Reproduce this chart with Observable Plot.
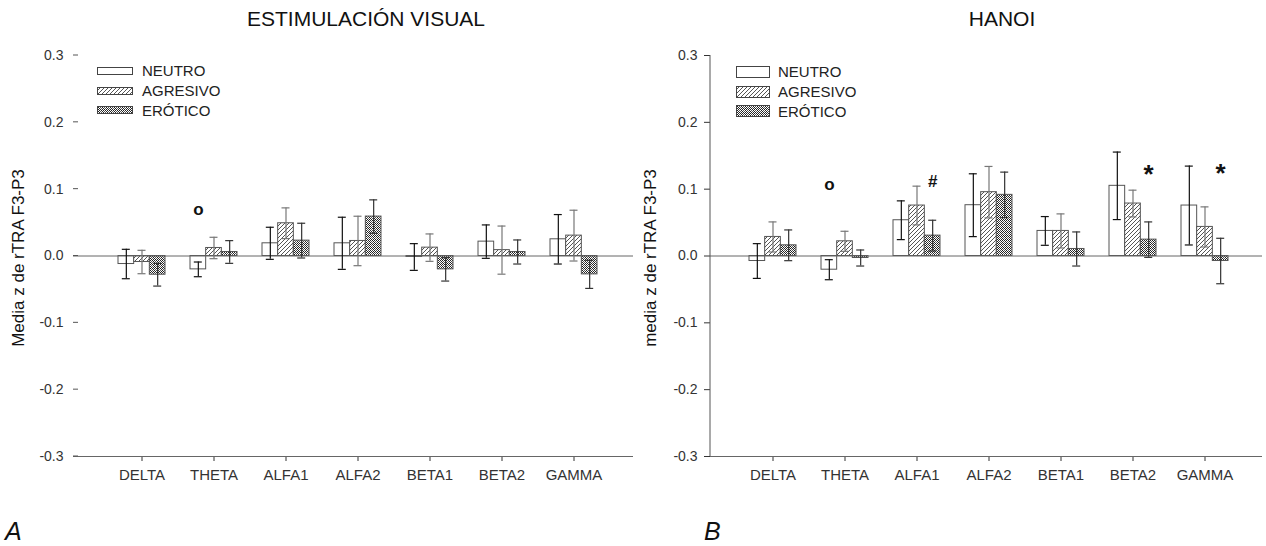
<!DOCTYPE html>
<html><head><meta charset="utf-8">
<script src="https://cdn.jsdelivr.net/npm/d3@7"></script>
<script src="https://cdn.jsdelivr.net/npm/@observablehq/plot@0.6"></script>
<style>
body{margin:0;background:#fff;font-family:"Liberation Sans",Arial,sans-serif;color:#111;}
#wrap{position:relative;width:1266px;height:546px;overflow:hidden;}
.panel{position:absolute;top:0;}
.title{position:absolute;top:7px;font-size:21px;transform:translateX(-50%);white-space:nowrap;}
.ylab{position:absolute;font-size:17px;white-space:nowrap;transform:translate(-50%,-50%) rotate(-90deg);}
.letter{position:absolute;font-size:25px;line-height:25px;font-style:italic;top:519px;}
.legend{position:absolute;font-size:15px;color:#222;}
.legend .row{display:flex;align-items:center;height:19.7px;}
.legend svg{display:block;}
</style>
</head>
<body>
<svg width="0" height="0" style="position:absolute">
  <defs>
    <pattern id="hatch" patternUnits="userSpaceOnUse" width="4" height="4">
      <rect width="4" height="4" fill="#fff"/>
      <path d="M-1,1 l2,-2 M0,4 l4,-4 M3,5 l2,-2" stroke="#555" stroke-width="1"/>
    </pattern>
    <pattern id="cross" patternUnits="userSpaceOnUse" width="4" height="4">
      <rect width="4" height="4" fill="#fff"/>
      <rect x="0" y="0" width="1" height="1" fill="#222"/>
      <rect x="2" y="0" width="1" height="1" fill="#222"/>
      <rect x="1" y="1" width="1" height="1" fill="#222"/>
      <rect x="3" y="1" width="1" height="1" fill="#555"/>
      <rect x="0" y="2" width="1" height="1" fill="#555"/>
      <rect x="2" y="2" width="1" height="1" fill="#222"/>
      <rect x="1" y="3" width="1" height="1" fill="#222"/>
      <rect x="3" y="3" width="1" height="1" fill="#222"/>
    </pattern>
  </defs>
</svg>
<div id="wrap"></div>
<script>
// ---------- data ----------
const categories = ["DELTA", "THETA", "ALFA1", "ALFA2", "BETA1", "BETA2", "GAMMA"];
const seriesNames = ["NEUTRO", "AGRESIVO", "ERÓTICO"];
const yTicks = [-0.3, -0.2, -0.1, 0, 0.1, 0.2, 0.3];

// Panel A: Estimulación visual
const visualNeutro      = [-0.012, -0.020, 0.019, 0.019, -0.0015, 0.0215, 0.025];
const visualAgresivo    = [-0.009, 0.012, 0.049, 0.0225, 0.0125, 0.0088, 0.0305];
const visualErotico     = [-0.028, 0.006, 0.023, 0.059, -0.020, 0.006, -0.0275];
const visualNeutroErr   = [0.022, 0.011, 0.024, 0.039, 0.020, 0.025, 0.037];
const visualAgresivoErr = [0.0175, 0.016, 0.023, 0.037, 0.0205, 0.036, 0.038];
const visualEroticoErr  = [0.017, 0.017, 0.026, 0.025, 0.0175, 0.018, 0.021];
const visualMarks = [{cat: "THETA", series: "NEUTRO", y: 0.070, label: "o"}];

// Panel B: Hanoi
const hanoiNeutro      = [-0.0075, -0.0205, 0.0535, 0.076, 0.0375, 0.105, 0.0755];
const hanoiAgresivo    = [0.0285, 0.022, 0.0755, 0.0955, 0.0375, 0.0785, 0.0435];
const hanoiErotico     = [0.016, -0.003, 0.0305, 0.0915, 0.0105, 0.0245, -0.0075];
const hanoiNeutroErr   = [0.026, 0.015, 0.029, 0.047, 0.0215, 0.0505, 0.059];
const hanoiAgresivoErr = [0.0225, 0.015, 0.029, 0.0385, 0.0255, 0.020, 0.030];
const hanoiEroticoErr  = [0.023, 0.012, 0.023, 0.034, 0.0255, 0.0265, 0.034];
const hanoiMarks = [
  {cat: "THETA", series: "NEUTRO", y: 0.107, label: "o"},
  {cat: "ALFA1", series: "ERÓTICO", y: 0.111, label: "#"},
  {cat: "BETA2", series: "ERÓTICO", y: 0.122, label: "*"},
  {cat: "GAMMA", series: "ERÓTICO", y: 0.123, label: "*"}
];

// ---------- styles ----------
const FILLS = ["#fff", "url(#hatch)", "url(#cross)"];
const ERRC = ["#111", "#777", "#333"];
const BAR_INSETS = [[0, 31.33], [15.67, 15.67], [31.33, 0]];
const CAP_INSETS = [[3.8, 35.2], [19.5, 19.5], [35.2, 3.8]];
const OFFS = [-15.67, 0, 15.67];
const FONT = '"Liberation Sans", Arial, sans-serif';

function buildRows(means, errs) {
  const rows = [];
  seriesNames.forEach((s, si) => categories.forEach((c, ci) =>
    rows.push({cat: c, series: s, v: means[si][ci], e: errs[si][ci]})));
  return rows;
}

function makePanel(cfg) {
  const rows = buildRows(cfg.means, cfg.errs);
  const marks = [];
  seriesNames.forEach((s, si) => {
    const d = rows.filter(r => r.series === s);
    marks.push(Plot.barY(d, {x: "cat", y: "v", fill: FILLS[si], stroke: "#555", strokeWidth: 1,
      insetLeft: BAR_INSETS[si][0], insetRight: BAR_INSETS[si][1]}));
  });
  marks.push(Plot.ruleY([0], {stroke: "#666"}));
  marks.push(Plot.ruleY([-0.3], {stroke: "#666"}));
  seriesNames.forEach((s, si) => {
    const d = rows.filter(r => r.series === s);
    marks.push(Plot.ruleX(d, {x: "cat", y1: r => r.v - r.e, y2: r => r.v + r.e, dx: OFFS[si], stroke: ERRC[si], strokeWidth: 1.2}));
    marks.push(Plot.tickY(d, {x: "cat", y: r => r.v + r.e, stroke: ERRC[si], strokeWidth: 1.2,
      insetLeft: CAP_INSETS[si][0], insetRight: CAP_INSETS[si][1]}));
    marks.push(Plot.tickY(d, {x: "cat", y: r => r.v - r.e, stroke: ERRC[si], strokeWidth: 1.2,
      insetLeft: CAP_INSETS[si][0], insetRight: CAP_INSETS[si][1]}));
  });
  cfg.annots.forEach(a => {
    const si = seriesNames.indexOf(a.series);
    const big = a.label === "*";
    marks.push(Plot.text([a], {x: "cat", y: "y", text: "label", dx: OFFS[si],
      fontSize: big ? 26 : 17, fontWeight: "bold", fill: "#111"}));
  });
  const plot = Plot.plot({
    width: cfg.width, height: 546,
    marginLeft: cfg.marginLeft, marginRight: cfg.marginRight, marginTop: 55, marginBottom: 90,
    style: {fontFamily: FONT, fontSize: "14px", color: "#333", background: "transparent"},
    x: {domain: categories, paddingInner: 0.349, paddingOuter: cfg.paddingOuter, align: cfg.align,
        tickSize: 5, tickPadding: 8, label: null},
    y: {domain: [-0.3, 0.3], ticks: yTicks, tickFormat: d => d.toFixed(1),
        tickSize: cfg.tickSize, tickPadding: cfg.tickPadding, label: null},
    marks
  });
  // decorations via the plot's own y scale
  const ys = plot.scale("y");
  const svg = d3.select(plot.tagName === "svg" ? plot : plot.querySelector("svg"));
  svg.selectAll('[aria-label="x-axis tick label"]').style("font-size", "15px");
  if (cfg.axisLine) {
    svg.append("line").attr("x1", cfg.marginLeft).attr("x2", cfg.marginLeft)
      .attr("y1", ys.apply(0.3)).attr("y2", ys.apply(-0.3)).attr("stroke", "#555");
  } else {
    yTicks.forEach(t => svg.append("line").attr("x1", cfg.marginLeft).attr("x2", cfg.marginLeft + 5)
      .attr("y1", ys.apply(t)).attr("y2", ys.apply(t)).attr("stroke", "#555"));
  }
  plot.classList.add("panel");
  plot.style.left = cfg.left + "px";
  return plot;
}

const wrap = document.getElementById("wrap");
wrap.appendChild(makePanel({
  means: [visualNeutro, visualAgresivo, visualErotico],
  errs: [visualNeutroErr, visualAgresivoErr, visualEroticoErr],
  annots: visualMarks, width: 640, left: 0, marginLeft: 73, marginRight: 7,
  paddingOuter: 0.553, align: 0.55, tickSize: 0, tickPadding: 10, axisLine: false
}));
wrap.appendChild(makePanel({
  means: [hanoiNeutro, hanoiAgresivo, hanoiErotico],
  errs: [hanoiNeutroErr, hanoiAgresivoErr, hanoiEroticoErr],
  annots: hanoiMarks, width: 626, left: 640, marginLeft: 70, marginRight: 4,
  paddingOuter: 0.497, align: 0.54, tickSize: 6, tickPadding: 7, axisLine: true
}));

function addText(cls, text, x, y) {
  const el = document.createElement("div");
  el.className = cls; el.textContent = text;
  el.style.left = x + "px";
  if (y !== undefined) el.style.top = y + "px";
  wrap.appendChild(el);
  return el;
}
addText("title", "ESTIMULACIÓN VISUAL", 366);
addText("title", "HANOI", 1002);
addText("ylab", "Media z de rTRA F3-P3", 19, 258);
addText("ylab", "media z de rTRA F3-P3", 651, 258);
addText("letter", "A", 5);
addText("letter", "B", 704);

function addLegend(x, y, swW, swH, gap) {
  const lg = document.createElement("div");
  lg.className = "legend";
  lg.style.left = x + "px"; lg.style.top = y + "px";
  seriesNames.forEach((s, si) => {
    const row = document.createElement("div");
    row.className = "row";
    row.innerHTML = `<svg width="${swW}" height="${swH}"><rect x="0.5" y="0.5" width="${swW - 1}" height="${swH - 1}" fill="${FILLS[si]}" stroke="#444"/></svg><span style="margin-left:${gap}px">${s}</span>`;
    lg.appendChild(row);
  });
  wrap.appendChild(lg);
}
addLegend(97, 61, 36, 8, 9);
addLegend(736, 62, 34, 12, 8);
</script>
</body></html>
